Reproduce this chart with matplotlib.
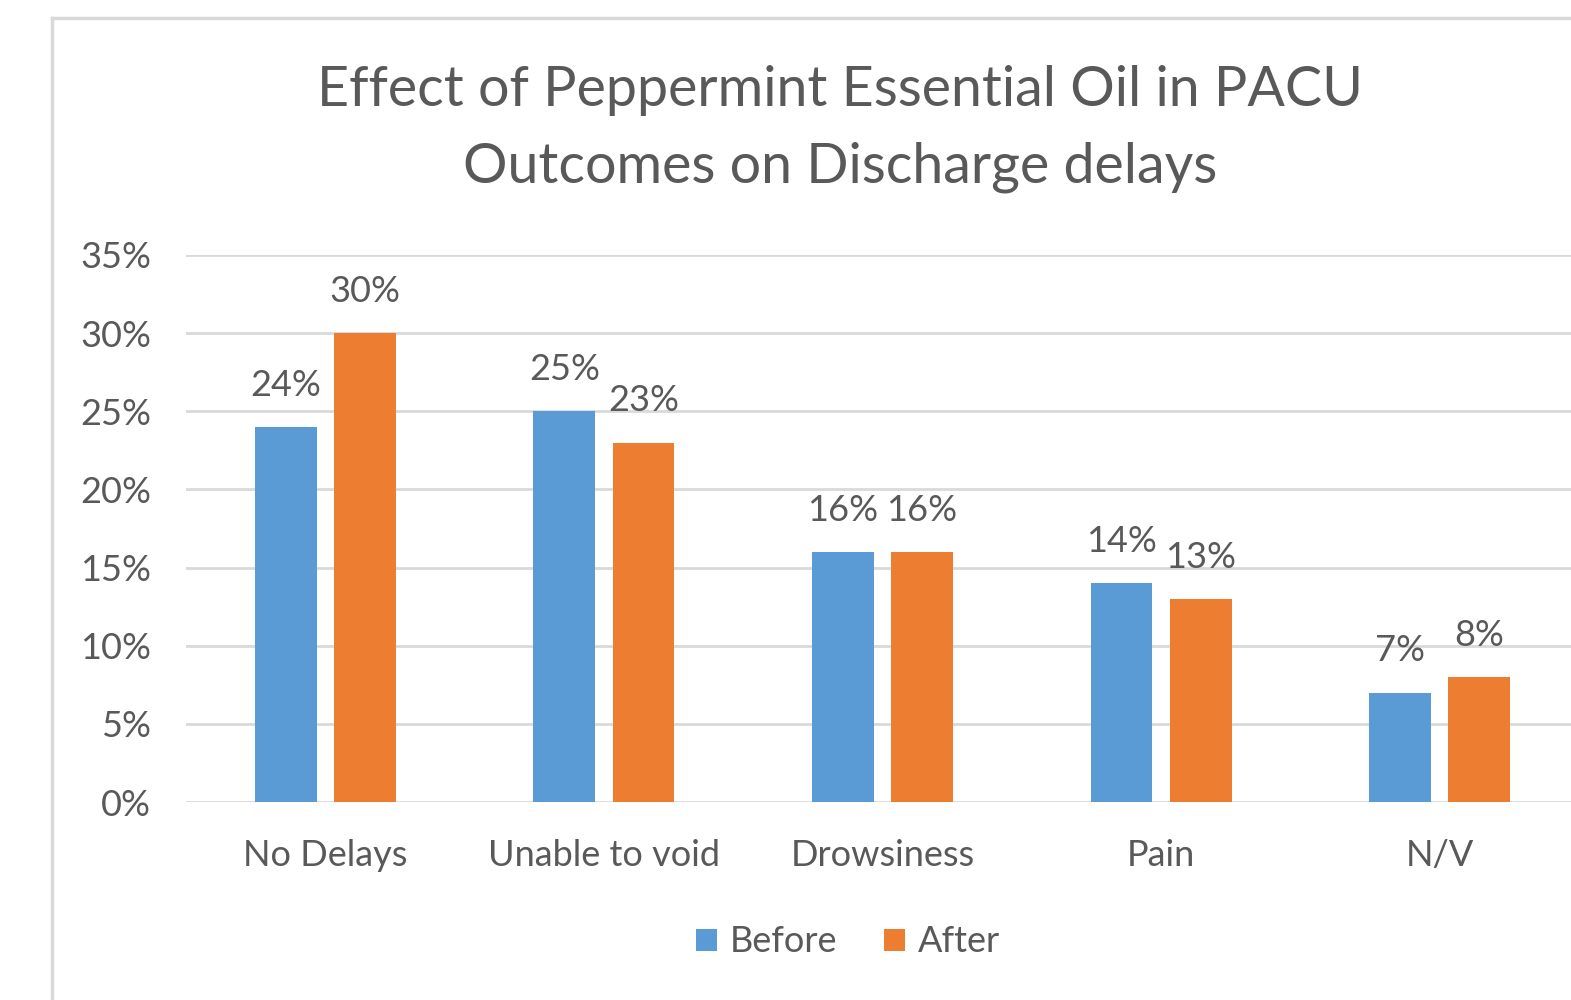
import matplotlib
matplotlib.use("Agg")
import matplotlib.pyplot as plt
from matplotlib.lines import Line2D
import numpy as np

categories = ["No Delays", "Unable to void", "Drowsiness", "Pain", "N/V"]
before = [24, 25, 16, 14, 7]
after = [30, 23, 16, 13, 8]
series_names = ["Before", "After"]
yticks = [0, 5, 10, 15, 20, 25, 30, 35]
title = "Effect of Peppermint Essential Oil in PACU\nOutcomes on Discharge delays"

BLUE = "#5B9BD5"
ORANGE = "#ED7D31"
TXT = "#595959"
GRID = "#D9D9D9"

plt.rcParams['font.family'] = ['Lato', 'DejaVu Sans']

W, H = 1571, 1000
fig = plt.figure(figsize=(W / 100, H / 100), dpi=100)
fig.patch.set_facecolor("white")

# chart frame (partially cropped)
fx0 = 52 / W
fy0 = 1 - 18 / H
fig.add_artist(Line2D([fx0, fx0], [0, fy0], color=GRID, lw=2.5, transform=fig.transFigure))
fig.add_artist(Line2D([fx0, 1.0], [fy0, fy0], color=GRID, lw=2.5, transform=fig.transFigure))

ax = fig.add_axes([186 / W, 1 - 802 / H, 1393 / W, (802 - 255) / H])
x = np.arange(len(categories))
bw = 0.222
off = 0.142
b1 = ax.bar(x - off, before, bw, color=BLUE, label=series_names[0], zorder=3)
b2 = ax.bar(x + off, after, bw, color=ORANGE, label=series_names[1], zorder=3)

FS = 26
ax.set_xlim(-0.5, len(categories) - 0.5)
ax.set_ylim(0, 35)
ax.set_yticks(yticks)
ax.set_yticklabels([f"{t}%" for t in yticks])
ax.set_xticks(x)
ax.set_xticklabels(categories)
ax.tick_params(axis='both', length=0, labelsize=FS, colors=TXT)
ax.tick_params(axis='y', pad=25)
ax.tick_params(axis='x', pad=27)
ax.yaxis.grid(True, color=GRID, lw=2, zorder=0)
ax.set_axisbelow(True)
for s in ax.spines.values():
    s.set_visible(False)

for bars, vals in ((b1, before), (b2, after)):
    for r, v in zip(bars, vals):
        ax.annotate(f"{v}%", (r.get_x() + r.get_width() / 2, v),
                    xytext=(0, 30), textcoords="offset points",
                    ha="center", va="center", fontsize=FS, color=TXT)

fig.text(840 / W, 1 - 129 / H, title, ha="center", va="center",
         fontsize=40, color=TXT, linespacing=1.62)

fig.legend(handles=[b1, b2], labels=series_names, loc="center",
           bbox_to_anchor=(848 / W, 1 - 942 / H), ncol=2, frameon=False,
           fontsize=FS, labelcolor=TXT, handlelength=0.58, handleheight=0.58,
           handletextpad=0.35, columnspacing=1.3)

fig.savefig("out.png", dpi=100)
